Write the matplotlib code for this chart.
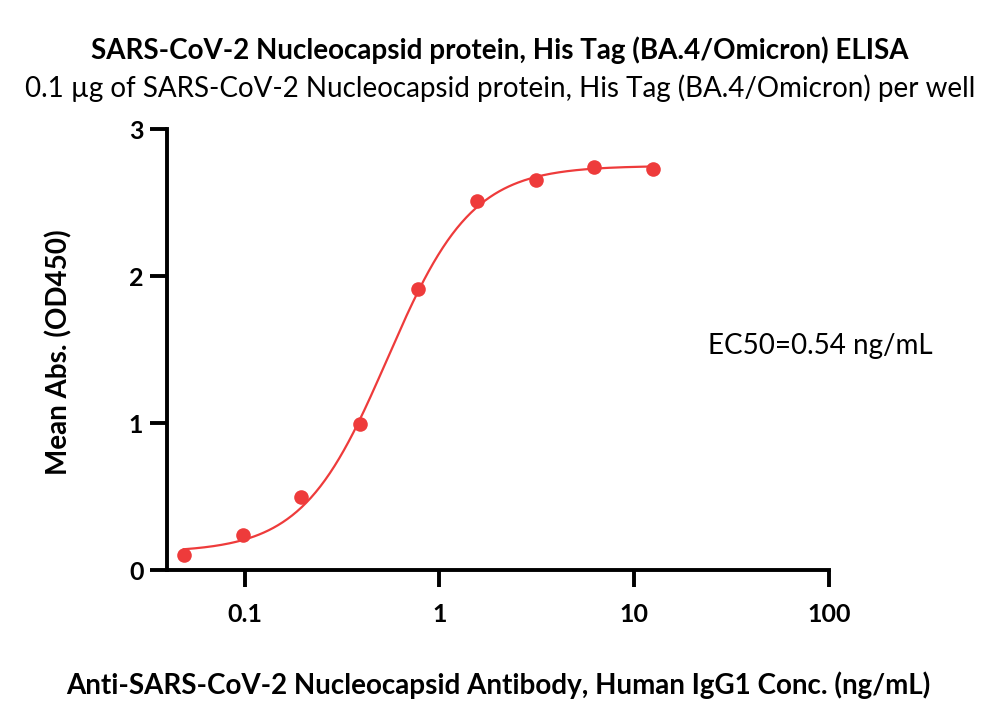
import numpy as np
import matplotlib.pyplot as plt

plt.rcParams['font.family'] = ['Lato', 'DejaVu Sans']

# data
conc = [0.0488, 0.0977, 0.195, 0.39, 0.78, 1.5625, 3.125, 6.25, 12.5]
od450 = [0.10, 0.24, 0.50, 0.99, 1.91, 2.51, 2.65, 2.74, 2.73]

# 4PL fit parameters (estimated)
bottom = 0.12
top = 2.75
ec50 = 0.54
hill = 2.0

red = '#EE3B3B'

fig = plt.figure(figsize=(10, 7.22), dpi=100)
ax = fig.add_axes([0.167, 0.2105, 0.662, 0.6108])

xs = np.logspace(np.log10(conc[0]), np.log10(conc[-1]), 300)
ys = bottom + (top - bottom) / (1 + (ec50 / xs) ** hill)
ax.plot(xs, ys, color=red, lw=1.6)
ax.plot(conc, od450, 'o', color=red, ms=10.5, mec='none')

ax.set_xscale('log')
ax.set_xlim(0.04, 100)
ax.set_ylim(0, 3)
ax.set_xticks([0.1, 1, 10, 100])
ax.set_xticklabels(['0.1', '1', '10', '100'])
ax.minorticks_off()
ax.set_yticks([0, 1, 2, 3])

for s in ['top', 'right']:
    ax.spines[s].set_visible(False)
for s in ['left', 'bottom']:
    ax.spines[s].set_linewidth(2.8)
ax.tick_params(length=12, width=2.8, labelsize=18)
ax.tick_params(axis='x', pad=12)
ax.tick_params(axis='y', pad=5)
for lab in ax.get_xticklabels() + ax.get_yticklabels():
    lab.set_fontweight('bold')

ax.set_ylabel('Mean Abs. (OD450)', fontsize=20, fontweight='bold')
ax.yaxis.set_label_coords(-0.1435, 0.494)
ax.set_xlabel('Anti-SARS-CoV-2 Nucleocapsid Antibody, Human IgG1 Conc. (ng/mL)',
              fontsize=20, fontweight='bold')
ax.xaxis.set_label_coords(0.5, -0.231)

ax.text(0.987, 0.508, 'EC50=0.54 ng/mL', transform=ax.transAxes, fontsize=20,
        ha='center', va='center')

fig.text(0.5, 0.931, 'SARS-CoV-2 Nucleocapsid protein, His Tag (BA.4/Omicron) ELISA',
         ha='center', va='center', fontsize=20, fontweight='bold')
fig.text(0.5, 0.878, '0.1 µg of SARS-CoV-2 Nucleocapsid protein, His Tag (BA.4/Omicron) per well',
         ha='center', va='center', fontsize=20)

fig.savefig('out.png', dpi=100)
